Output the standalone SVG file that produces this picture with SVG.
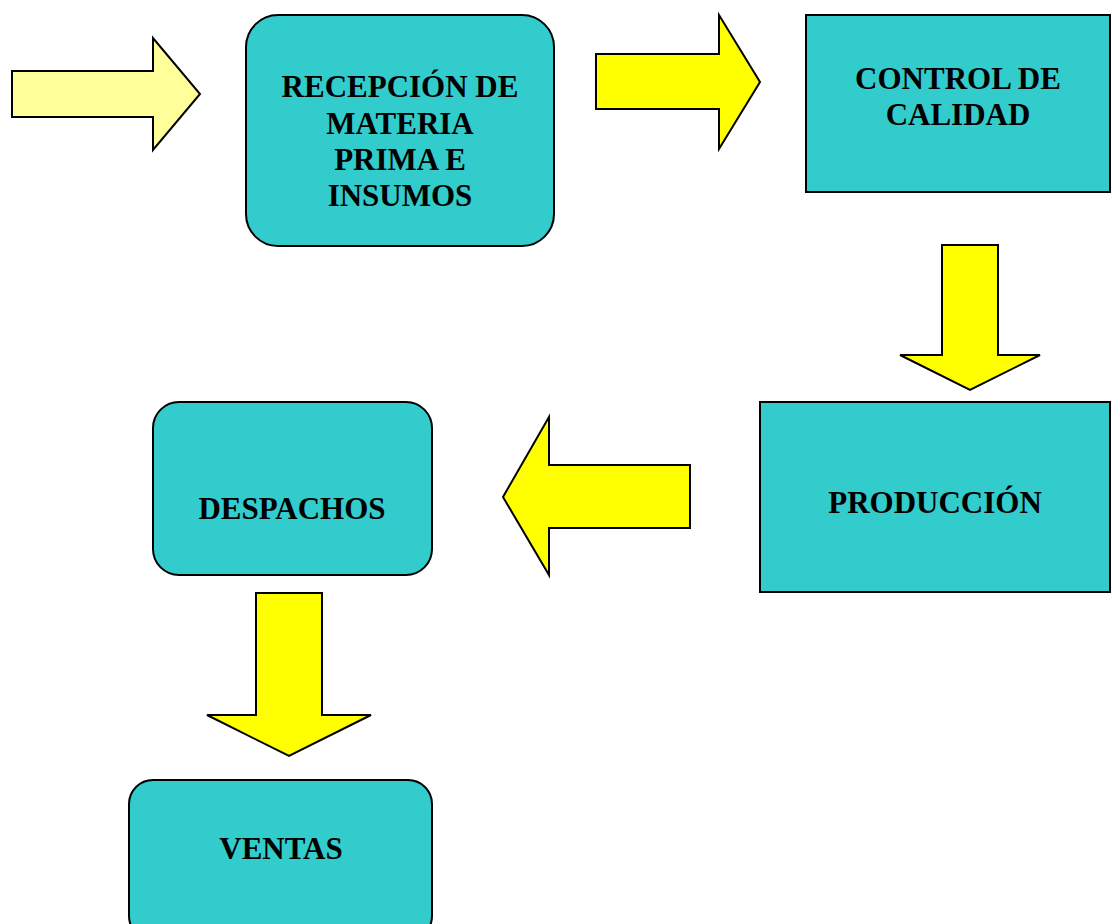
<svg xmlns="http://www.w3.org/2000/svg" width="1114" height="924" viewBox="0 0 1114 924">
<style>
.box{fill:#33CCCC;stroke:#000;stroke-width:2}
.arr{fill:#FFFF00;stroke:#000;stroke-width:2;stroke-linejoin:miter}
.arr1{fill:#FFFF99;stroke:#000;stroke-width:2}
.t{font-family:"Liberation Serif","Times New Roman",serif;font-weight:bold;font-size:31px;fill:#000;text-anchor:middle}
</style>
<rect width="1114" height="924" fill="#fff"/>
<g id="connectors">
<polygon class="arr1" points="12,71 153,71 153,38 200,94 153,150 153,117 12,117"/>
<polygon class="arr" points="596,54 719,54 719,15 760,82 719,149 719,109 596,109"/>
<polygon class="arr" points="942,245 998,245 998,355 1040,355 970,390 900,355 942,355"/>
<polygon class="arr" points="690,465 549,465 549,417 503,497 549,575 549,528 690,528"/>
<polygon class="arr" points="256,593 322,593 322,715 371,715 289,756 207,715 256,715"/>
</g>
<g id="recepcion">
<rect class="box" x="246" y="15" width="308" height="231" rx="32"/>
<text class="t" x="400" y="97">RECEPCIÓN DE</text>
<text class="t" x="400" y="134">MATERIA</text>
<text class="t" x="400" y="170">PRIMA E</text>
<text class="t" x="400" y="206">INSUMOS</text>
</g>
<g id="control">
<rect class="box" x="806" y="15" width="304" height="177"/>
<text class="t" x="958" y="89">CONTROL DE</text>
<text class="t" x="958" y="125">CALIDAD</text>
</g>
<g id="produccion">
<rect class="box" x="760" y="402" width="350" height="190"/>
<text class="t" x="935" y="513">PRODUCCIÓN</text>
</g>
<g id="despachos">
<rect class="box" x="153" y="402" width="279" height="173" rx="26"/>
<text class="t" x="292" y="519">DESPACHOS</text>
</g>
<g id="ventas">
<rect class="box" x="129" y="780" width="303" height="160" rx="24"/>
<text class="t" x="281" y="859">VENTAS</text>
</g>
</svg>
